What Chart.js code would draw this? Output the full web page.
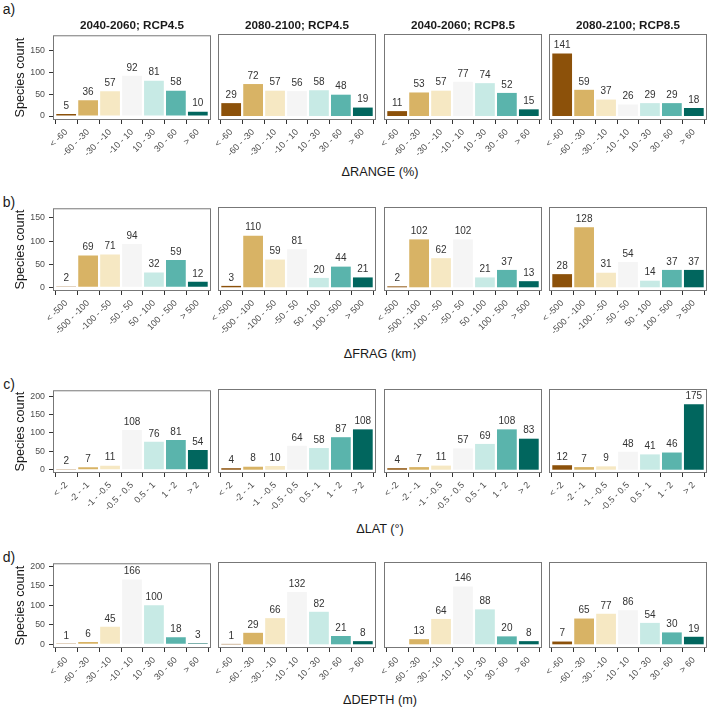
<!DOCTYPE html>
<html>
<head>
<meta charset="utf-8">
<script src="https://cdn.jsdelivr.net/npm/chart.js@4/dist/chart.umd.min.js"></script>
<style>
body { margin: 0; background: #fff; width: 709px; height: 708px; position: relative; overflow: hidden;
       font-family: "Liberation Sans", Arial, sans-serif; }
canvas { position: absolute; }
.txt { position: absolute; white-space: nowrap; transform: translate(-50%, -50%); color: #1a1a1a; }
</style>
</head>
<body>
<script>
// panel titles (columns)
const scenarios = ['2040-2060; RCP4.5', '2080-2100; RCP4.5', '2040-2060; RCP8.5', '2080-2100; RCP8.5'];

// class labels per metric
const rangeCats = ['< -60', '-60 - -30', '-30 - -10', '-10 - 10', '10 - 30', '30 - 60', '> 60'];
const fragCats = ['< -500', '-500 - -100', '-100 - -50', '-50 - 50', '50 - 100', '100 - 500', '> 500'];
const latCats = ['< -2', '-2 - -1', '-1 - -0.5', '-0.5 - 0.5', '0.5 - 1', '1 - 2', '> 2'];
const depthCats = ['< -60', '-60 - -30', '-30 - -10', '-10 - 10', '10 - 30', '30 - 60', '> 60'];

// species counts, one row per scenario
const rangeCounts = [
    [5, 36, 57, 92, 81, 58, 10],
    [29, 72, 57, 56, 58, 48, 19],
    [11, 53, 57, 77, 74, 52, 15],
    [141, 59, 37, 26, 29, 29, 18]
];
const fragCounts = [
    [2, 69, 71, 94, 32, 59, 12],
    [3, 110, 59, 81, 20, 44, 21],
    [2, 102, 62, 102, 21, 37, 13],
    [28, 128, 31, 54, 14, 37, 37]
];
const latCounts = [
    [2, 7, 11, 108, 76, 81, 54],
    [4, 8, 10, 64, 58, 87, 108],
    [4, 7, 11, 57, 69, 108, 83],
    [12, 7, 9, 48, 41, 46, 175]
];
const depthCounts = [
    [1, 6, 45, 166, 100, 18, 3],
    [1, 29, 66, 132, 82, 21, 8],
    [0, 13, 64, 146, 88, 20, 8],
    [7, 65, 77, 86, 54, 30, 19]
];

const yTicksSmall = [0, 50, 100, 150];
const yTicksLarge = [0, 50, 100, 150, 200];

const colors = ['#8C510A', '#D8B365', '#F6E8C3', '#F5F5F5', '#C7EAE5', '#5AB4AC', '#01665E'];

// layout
const FONT = '"Liberation Sans", Arial, sans-serif';
const colLeft = [53, 218, 384, 549];
const panelW = 158;
const xAxisH = 52;
const padTop = 8;

const rows = [
    { letter: 'a)', cats: rangeCats, counts: rangeCounts, xTitle: 'ΔRANGE (%)', yTicks: yTicksSmall,
      top: 34, bottom: 120, min: -9, max: 184.7, titleY: 172, letterY: 9 },
    { letter: 'b)', cats: fragCats, counts: fragCounts, xTitle: 'ΔFRAG (km)', yTicks: yTicksSmall,
      top: 207, bottom: 291, min: -7.9, max: 171, titleY: 354, letterY: 202 },
    { letter: 'c)', cats: latCats, counts: latCounts, xTitle: 'ΔLAT (°)', yTicks: yTicksLarge,
      top: 389, bottom: 473, min: -8.8, max: 216, titleY: 529, letterY: 384 },
    { letter: 'd)', cats: depthCats, counts: depthCounts, xTitle: 'ΔDEPTH (m)', yTicks: yTicksLarge,
      top: 562, bottom: 648, min: -9.3, max: 207.5, titleY: 700, letterY: 557 }
];

function addText(text, x, y, css) {
    const d = document.createElement('div');
    d.className = 'txt';
    d.textContent = text;
    d.style.left = x + 'px';
    d.style.top = y + 'px';
    Object.assign(d.style, css || {});
    document.body.appendChild(d);
}

const panelBox = {
    id: 'panelBox',
    afterDraw(chart) {
        const { ctx, chartArea: a } = chart;
        ctx.save();
        ctx.strokeStyle = '#777';
        ctx.lineWidth = 1;
        ctx.strokeRect(a.left + 0.5, a.top + 0.5, a.width - 1, a.height - 1);
        ctx.restore();
    }
};

const barLabels = {
    id: 'barLabels',
    afterDatasetsDraw(chart) {
        const ctx = chart.ctx;
        const meta = chart.getDatasetMeta(0);
        const data = chart.data.datasets[0].data;
        ctx.save();
        ctx.font = '10px ' + FONT;
        ctx.fillStyle = '#333';
        ctx.textAlign = 'center';
        ctx.textBaseline = 'bottom';
        meta.data.forEach((bar, i) => {
            const v = data[i].y;
            if (!v) return;
            ctx.fillText(v, bar.x, bar.y - 3);
        });
        ctx.restore();
    }
};

function makePanel(row, col) {
    const first = col === 0;
    const padLeft = first ? 0 : 40;
    const canvas = document.createElement('canvas');
    const w = (first ? colLeft[0] : padLeft) + panelW + 3;
    const h = padTop + (row.bottom - row.top) + xAxisH;
    canvas.width = w;
    canvas.height = h;
    canvas.style.width = w + 'px';
    canvas.style.height = h + 'px';
    canvas.style.left = (first ? 0 : colLeft[col] - padLeft) + 'px';
    canvas.style.top = (row.top - padTop) + 'px';
    document.body.appendChild(canvas);

    const cats = row.cats;
    new Chart(canvas, {
        type: 'bar',
        data: {
            datasets: [{
                data: row.counts[col].map((v, i) => ({ x: i + 1, y: v })),
                backgroundColor: colors,
                borderWidth: 0,
                barPercentage: 0.9,
                categoryPercentage: 1
            }]
        },
        options: {
            responsive: false,
            animation: false,
            events: [],
            layout: { padding: { left: padLeft, right: 3, top: padTop, bottom: 0 } },
            plugins: { legend: { display: false }, tooltip: { enabled: false } },
            scales: {
                x: {
                    type: 'linear',
                    min: 0.4,
                    max: 7.6,
                    offset: false,
                    afterBuildTicks: s => { s.ticks = cats.map((c, i) => ({ value: i + 1 })); },
                    afterFit: s => { s.height = xAxisH; s.paddingLeft = 0; s.paddingRight = 0; },
                    ticks: {
                        autoSkip: false, minRotation: 45, maxRotation: 45, padding: 3,
                        font: { size: 9, family: FONT }, color: '#4d4d4d',
                        callback: (v, i) => cats[i]
                    },
                    grid: { drawOnChartArea: false, drawTicks: true, tickLength: 4, tickColor: '#333' },
                    border: { display: false }
                },
                y: {
                    display: first,
                    min: row.min,
                    max: row.max,
                    afterBuildTicks: s => { s.ticks = row.yTicks.map(v => ({ value: v })); },
                    afterFit: s => { if (first) s.width = colLeft[0]; },
                    ticks: { font: { size: 8.8, family: FONT }, color: '#4d4d4d', padding: 4 },
                    grid: { drawOnChartArea: false, drawTicks: true, tickLength: 4, tickColor: '#333' },
                    border: { display: false },
                    title: {
                        display: true, text: 'Species count', color: '#1a1a1a',
                        font: { size: 12.7, family: FONT }, padding: { top: 12.5, bottom: 0 }
                    }
                }
            }
        },
        plugins: [panelBox, barLabels]
    });
}

rows.forEach((row, r) => {
    addText(row.letter, 9, row.letterY, { fontSize: '14px' });
    addText(row.xTitle, 380, row.titleY, { fontSize: '12.7px' });
    for (let c = 0; c < 4; c++) makePanel(row, c);
});

scenarios.forEach((s, c) => {
    addText(s, colLeft[c] + panelW / 2, 23.5, { fontSize: '11.7px', fontWeight: 'bold' });
});
</script>
</body>
</html>
